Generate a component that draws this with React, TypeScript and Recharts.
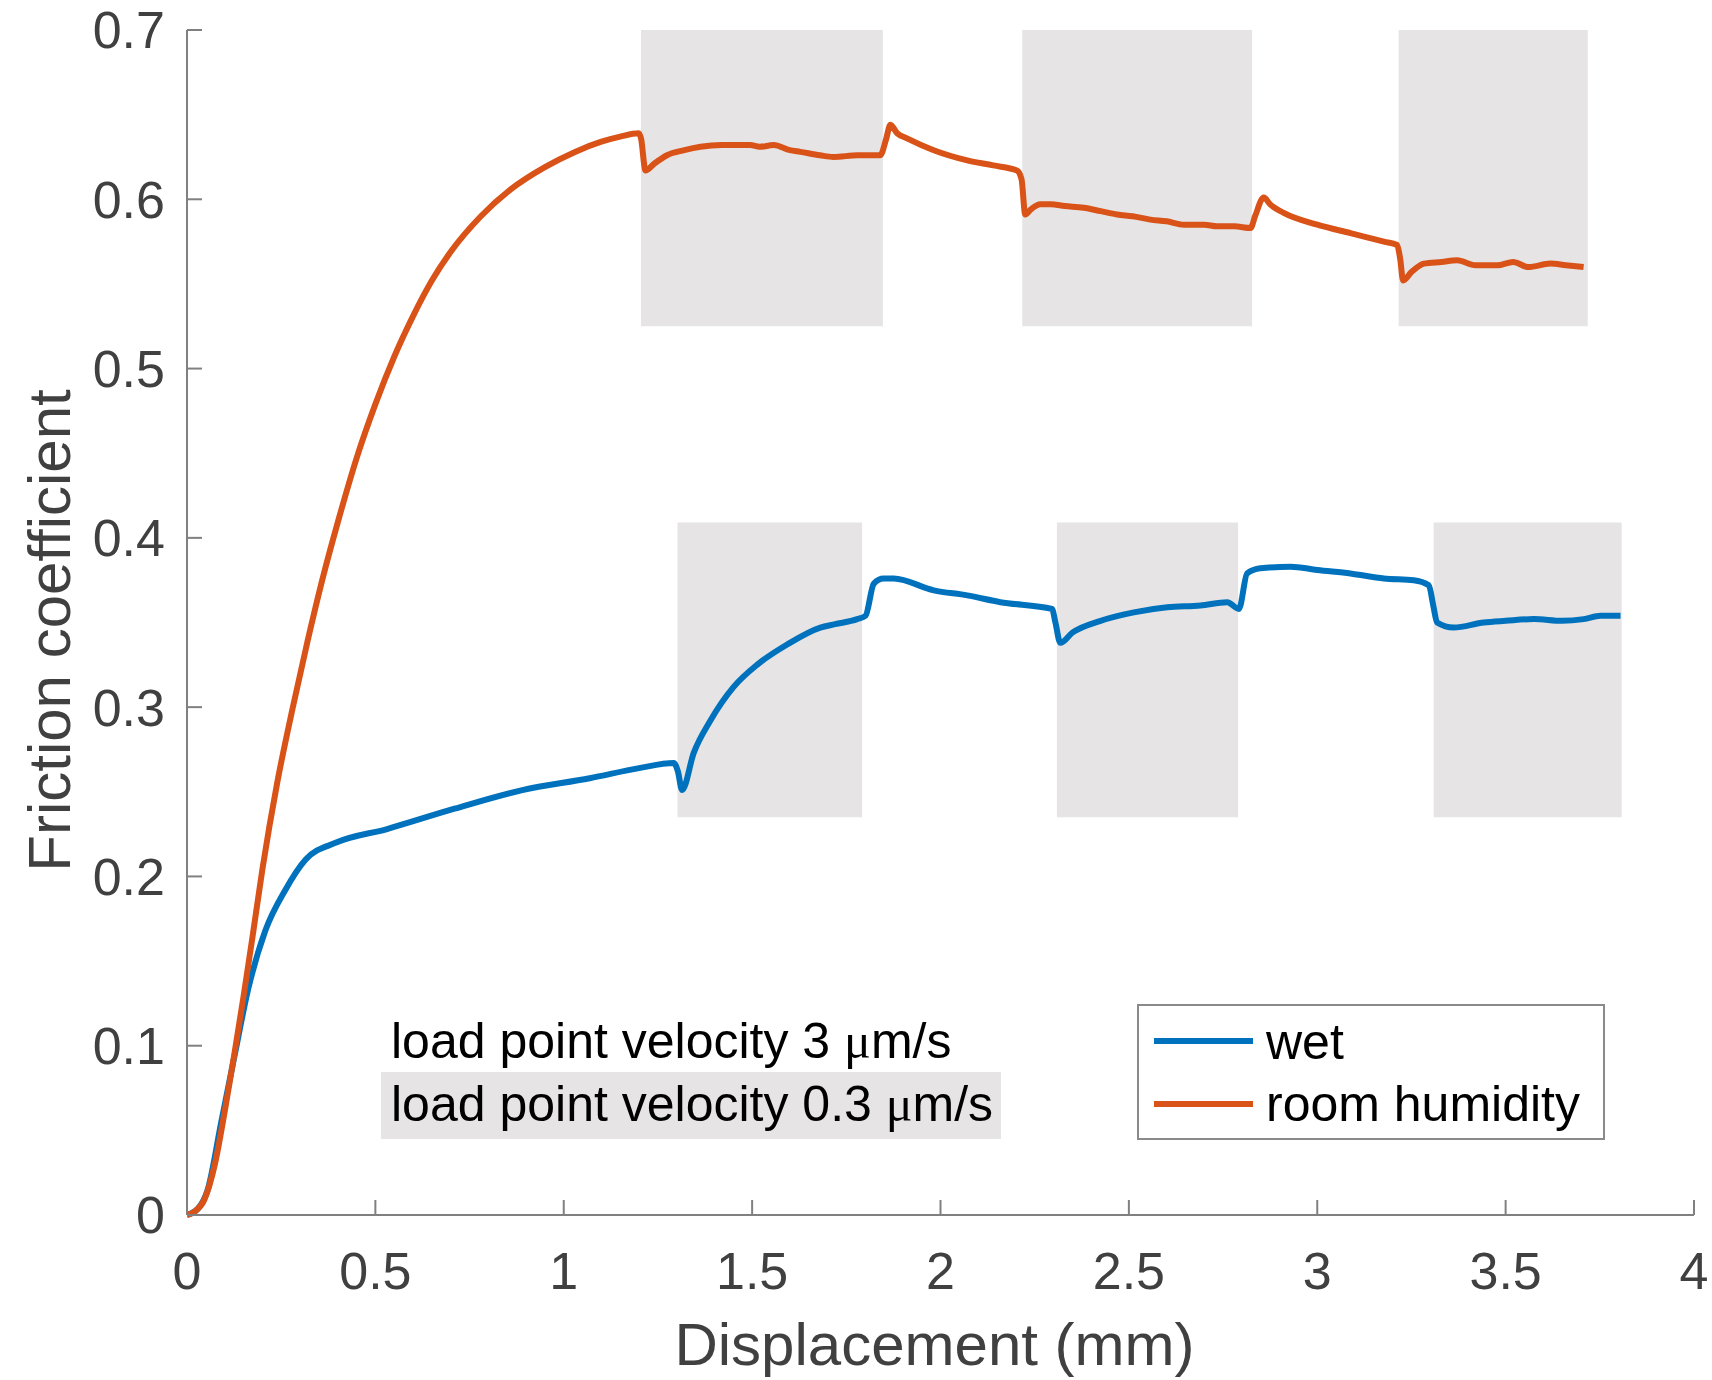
import { LineChart, Line, XAxis, YAxis, ReferenceArea } from 'recharts'

// wet sample
const wetX = [
  0, 0.03, 0.055, 0.091, 0.127, 0.163, 0.208, 0.261, 0.315, 0.396, 0.531, 0.71, 0.89, 1.069, 1.2,
  1.292, 1.303, 1.314, 1.345, 1.389, 1.451, 1.513, 1.593, 1.681, 1.72, 1.779, 1.801, 1.823, 1.849,
  1.876, 1.982, 2.071, 2.159, 2.296, 2.305, 2.318, 2.35, 2.425, 2.513, 2.602, 2.69, 2.761, 2.792,
  2.814, 2.849, 2.929, 3.0, 3.088, 3.177, 3.256, 3.296, 3.308, 3.318, 3.362, 3.442, 3.5, 3.575,
  3.65, 3.707, 3.752, 3.805,
]
const wetY = [
  0, 0.004, 0.015, 0.055, 0.095, 0.134, 0.168, 0.192, 0.21, 0.22, 0.228, 0.24, 0.251, 0.258, 0.264,
  0.267, 0.262, 0.251, 0.273, 0.292, 0.312, 0.325, 0.337, 0.347, 0.349, 0.352, 0.354, 0.373, 0.376,
  0.376, 0.369, 0.366, 0.362, 0.358, 0.35, 0.338, 0.344, 0.351, 0.356, 0.359, 0.36, 0.362, 0.358,
  0.379, 0.382, 0.383, 0.381, 0.379, 0.376, 0.375, 0.372, 0.36, 0.35, 0.347, 0.35, 0.351, 0.352,
  0.351, 0.352, 0.354, 0.354,
]

// room humidity sample
const roomX = [
  0, 0.02, 0.046, 0.075, 0.1, 0.125, 0.15, 0.175, 0.2, 0.24, 0.28, 0.32, 0.36, 0.4, 0.45, 0.5,
  0.55, 0.6, 0.65, 0.7, 0.78, 0.86, 0.95, 1.03, 1.1, 1.15, 1.199, 1.205, 1.217, 1.24, 1.274,
  1.32, 1.363, 1.42, 1.495, 1.52, 1.557, 1.6, 1.628, 1.68, 1.716, 1.78, 1.84, 1.855, 1.867, 1.885,
  1.911, 1.982, 2.071, 2.14, 2.203, 2.215, 2.225, 2.24, 2.265, 2.292, 2.33, 2.38, 2.425, 2.469,
  2.51, 2.557, 2.6, 2.646, 2.7, 2.734, 2.78, 2.823, 2.835, 2.858, 2.875, 2.911, 3.0, 3.088, 3.177,
  3.212, 3.22, 3.228, 3.25, 3.283, 3.33, 3.371, 3.42, 3.478, 3.52, 3.56, 3.619, 3.66, 3.707,
]
const roomY = [
  0, 0.002, 0.009, 0.031, 0.061, 0.094, 0.129, 0.166, 0.204, 0.256, 0.299, 0.339, 0.376, 0.409,
  0.447, 0.479, 0.507, 0.531, 0.552, 0.569, 0.59, 0.606, 0.619, 0.628, 0.634, 0.637, 0.639, 0.636,
  0.617, 0.621, 0.626, 0.629, 0.631, 0.632, 0.632, 0.631, 0.632, 0.629, 0.628, 0.626, 0.625, 0.626,
  0.626, 0.635, 0.644, 0.639, 0.636, 0.629, 0.623, 0.62, 0.617, 0.612, 0.591, 0.594, 0.597, 0.597,
  0.596, 0.595, 0.593, 0.591, 0.59, 0.588, 0.587, 0.585, 0.585, 0.584, 0.584, 0.583, 0.59, 0.601,
  0.597, 0.592, 0.585, 0.58, 0.575, 0.573, 0.565, 0.552, 0.557, 0.562, 0.563, 0.564, 0.561, 0.561,
  0.563, 0.56, 0.562, 0.561, 0.56,
]

const xTicks = [0, 0.5, 1, 1.5, 2, 2.5, 3, 3.5, 4]
const yTicks = [0, 0.1, 0.2, 0.3, 0.4, 0.5, 0.6, 0.7]

// windows at 0.3 um/s (shaded)
const roomSlowStart = [1.205, 2.217, 3.216]
const roomSlowEnd = [1.847, 2.827, 3.718]
const roomShadeY = [0.525, 0.7]
const wetSlowStart = [1.302, 2.309, 3.309]
const wetSlowEnd = [1.792, 2.79, 3.808]
const wetShadeY = [0.235, 0.409]

const seriesNames = ['wet', 'room humidity']
const seriesColors = ['#0072bd', '#d95319']

const FONT = '"Liberation Sans", Arial, Helvetica, sans-serif'
const AXIS = '#808080'
const LABEL = '#404040'
const SHADE = '#e6e4e4'

const wetData = wetX.map((x, i) => ({ x, y: wetY[i] }))
const roomData = roomX.map((x, i) => ({ x, y: roomY[i] }))

const tickStyle = { fontSize: 52, fontFamily: FONT, fill: LABEL }

export default function App() {
  return (
    <div style={{ position: 'absolute', left: 0, top: 0, width: 1712, height: 1380, background: '#fff' }}>
      <LineChart width={1712} height={1380} margin={{ top: 30, right: 18, bottom: 0, left: 0 }}>
        {roomSlowStart.map((s, i) => (
          <ReferenceArea key={'r' + i} x1={s} x2={roomSlowEnd[i]} y1={roomShadeY[0]} y2={roomShadeY[1]}
            fill={SHADE} fillOpacity={1} stroke="none" />
        ))}
        {wetSlowStart.map((s, i) => (
          <ReferenceArea key={'w' + i} x1={s} x2={wetSlowEnd[i]} y1={wetShadeY[0]} y2={wetShadeY[1]}
            fill={SHADE} fillOpacity={1} stroke="none" />
        ))}
        <XAxis dataKey="x" type="number" domain={[0, 4]} ticks={xTicks} interval={0} height={165}
          stroke={AXIS} strokeWidth={2} tickSize={-15} tickMargin={52} tick={tickStyle}
          label={{
            content: (p: any) => (
              <text x={p.viewBox.x + p.viewBox.width / 2 - 6} y={p.viewBox.y + 150} textAnchor="middle"
                fontSize={60} fontFamily={FONT} fill={LABEL}>Displacement (mm)</text>
            ),
          }} />
        <XAxis xAxisId="top" orientation="top" dataKey="x" type="number" domain={[0, 4]} ticks={xTicks}
          interval={0} height={0} stroke={AXIS} strokeWidth={2} tickSize={-15} tickFormatter={() => ''} />
        <YAxis type="number" domain={[0, 0.7]} ticks={yTicks} interval={0} width={187}
          stroke={AXIS} strokeWidth={2} tickSize={-15} tickMargin={37} tick={tickStyle}
          label={{
            content: (p: any) => {
              const cy = p.viewBox.y + p.viewBox.height / 2 + 8
              return (
                <text x={70} y={cy} transform={`rotate(-90, 70, ${cy})`} textAnchor="middle"
                  fontSize={60} fontFamily={FONT} fill={LABEL}>Friction coefficient</text>
              )
            },
          }} />
        <YAxis yAxisId="right" orientation="right" type="number" domain={[0, 0.7]} ticks={yTicks}
          interval={0} width={0} stroke={AXIS} strokeWidth={2} tickSize={-15} tickFormatter={() => ''} />
        <Line data={wetData} dataKey="y" name={seriesNames[0]} type="monotone" stroke={seriesColors[0]}
          strokeWidth={6} dot={false} activeDot={false} isAnimationActive={false} />
        <Line data={roomData} dataKey="y" name={seriesNames[1]} type="monotone" stroke={seriesColors[1]}
          strokeWidth={6} dot={false} activeDot={false} isAnimationActive={false} />
      </LineChart>

      <svg width={1712} height={1380} style={{ position: 'absolute', left: 0, top: 0, pointerEvents: 'none' }}>
        {/* velocity annotation */}
        <rect x={381} y={1072} width={620} height={67} fill={SHADE} />
        <text x={391} y={1058} fontSize={50} fontFamily={FONT} fill="#000">
          load point velocity 3 <tspan fontFamily='"Liberation Serif", serif'>μ</tspan>m/s
        </text>
        <text x={391} y={1121} fontSize={50} fontFamily={FONT} fill="#000">
          load point velocity 0.3 <tspan fontFamily='"Liberation Serif", serif'>μ</tspan>m/s
        </text>

        {/* legend */}
        <rect x={1138} y={1005} width={466} height={134} fill="#fff" stroke="#8a8a8a" strokeWidth={2} />
        {seriesNames.map((name, i) => (
          <g key={name}>
            <line x1={1154} x2={1253} y1={1041 + i * 63} y2={1041 + i * 63} stroke={seriesColors[i]} strokeWidth={6} />
            <text x={1266} y={1059 + i * 62} fontSize={50} fontFamily={FONT} fill="#000">{name}</text>
          </g>
        ))}
      </svg>
    </div>
  )
}
